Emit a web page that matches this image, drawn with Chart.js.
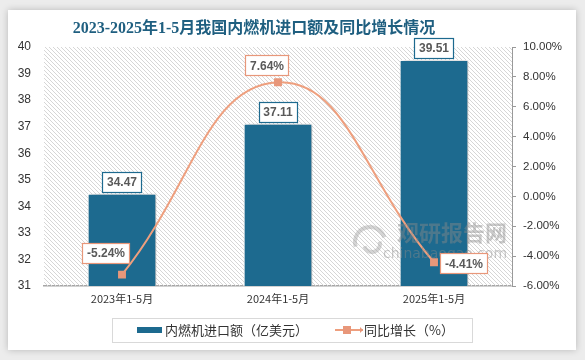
<!DOCTYPE html>
<html><head><meta charset="utf-8">
<script src="https://cdn.jsdelivr.net/npm/chart.js@4.4.1/dist/chart.umd.min.js"></script>
<style>
html,body{margin:0;padding:0;width:585px;height:360px;background:#ececec;overflow:hidden}
#card{position:absolute;left:8px;top:10px;width:568px;height:340px;background:#fff;box-shadow:0 0 7px rgba(0,0,0,0.22)}
canvas{display:block}
</style></head><body>
<div id="card"><canvas id="c" width="568" height="340"></canvas></div>
<script>
const categories = ['2023年1-5月', '2024年1-5月', '2025年1-5月'];
const importValues = [34.47, 37.11, 39.51];
const growthRates = [-5.24, 7.64, -4.41];
const leftTicks = [31, 32, 33, 34, 35, 36, 37, 38, 39, 40];
const rightTicks = [-6, -4, -2, 0, 2, 4, 6, 8, 10];
const titleText = '2023-2025年1-5月我国内燃机进口额及同比增长情况';
const barLegend = '内燃机进口额（亿美元）';
const lineLegend = '同比增长（%）';

const BAR_COLOR = '#1d6a8f';
const LINE_COLOR = '#ee9f7e';
const POINT_COLOR = '#e8977a';
const lineLabelOffsets = [[-16, -22], [-11, -17], [30, 1]];

const ctxEl = document.getElementById('c');

function makeHatch() {
  const p = document.createElement('canvas');
  p.width = 4; p.height = 4;
  const g = p.getContext('2d');
  g.fillStyle = '#d6d6d6';
  for (let i = 0; i < 4; i++) g.fillRect(i, i, 1, 1);
  return g.createPattern(p, 'repeat');
}

const decor = {
  id: 'decor',
  beforeDatasetsDraw(chart) {
    const {ctx, chartArea: a} = chart;
    ctx.save();
    ctx.fillStyle = makeHatch();
    ctx.fillRect(a.left, a.top, a.right - a.left, a.bottom - a.top);
    ctx.restore();
  },
  beforeDatasetDraw(chart, args) {
    if (chart.data.datasets[args.index].type === 'bar') {
      chart.ctx.save();
      chart.ctx.shadowColor = 'rgba(0,0,0,0.35)';
      chart.ctx.shadowBlur = 5;
      chart.ctx.shadowOffsetX = 2;
      chart.ctx.shadowOffsetY = 0;
    }
  },
  afterDatasetDraw(chart, args) {
    if (chart.data.datasets[args.index].type === 'bar') chart.ctx.restore();
  },
  afterDatasetsDraw(chart) {
    const ctx = chart.ctx;
    // watermark
    ctx.save();
    ctx.fillStyle = 'rgba(138,138,138,0.45)';
    ctx.textAlign = 'center';
    ctx.textBaseline = 'middle';
    ctx.font = 'bold 22px "Noto Sans CJK SC"';
    ctx.fillText('观研报告网', 444, 223);
    ctx.font = '14px "DejaVu Sans"';
    ctx.fillText('chinabaogao.com', 437, 244);
    ctx.strokeStyle = 'rgba(160,160,160,0.45)';
    ctx.lineWidth = 4;
    ctx.beginPath(); ctx.arc(362, 232, 15, Math.PI * 0.9, Math.PI * 1.9); ctx.stroke();
    ctx.beginPath(); ctx.arc(364, 234, 8, Math.PI * 1.9, Math.PI * 0.9); ctx.stroke();
    ctx.restore();

    // data labels
    const drawBox = (text, cx, cy, border, h) => {
      ctx.font = 'bold 12px "Liberation Sans"';
      const w = ctx.measureText(text).width + 9;
      ctx.fillStyle = '#fff';
      ctx.fillRect(Math.round(cx - w / 2) + 0.5, Math.round(cy - h / 2) + 0.5, Math.round(w), h);
      ctx.strokeStyle = border;
      ctx.lineWidth = 1.2;
      ctx.strokeRect(Math.round(cx - w / 2) + 0.5, Math.round(cy - h / 2) + 0.5, Math.round(w), h);
      ctx.fillStyle = '#595959';
      ctx.textAlign = 'center';
      ctx.textBaseline = 'middle';
      ctx.fillText(text, cx, cy + 1);
    };
    ctx.save();
    const barMeta = chart.getDatasetMeta(1);
    barMeta.data.forEach((el, i) => {
      drawBox(importValues[i].toFixed(2), el.x, el.y - 12, BAR_COLOR, 20);
    });
    const lineMeta = chart.getDatasetMeta(0);
    lineMeta.data.forEach((el, i) => {
      const o = lineLabelOffsets[i];
      drawBox(growthRates[i].toFixed(2) + '%', el.x + o[0], el.y + o[1], POINT_COLOR, 20);
    });
    ctx.restore();
  },
  afterDraw(chart) {
    const ctx = chart.ctx;
    ctx.save();
    // title
    ctx.fillStyle = '#1f5f80';
    ctx.font = 'bold 16px "Liberation Serif", "Noto Sans CJK SC"';
    ctx.textAlign = 'center';
    ctx.textBaseline = 'middle';
    ctx.fillText(titleText, 246, 19);
    // legend
    ctx.strokeStyle = '#d9d9d9';
    ctx.lineWidth = 1;
    ctx.strokeRect(104.5, 308.5, 360, 24);
    ctx.fillStyle = BAR_COLOR;
    ctx.fillRect(129, 317, 25, 6);
    ctx.fillStyle = '#333';
    ctx.font = '13px "Noto Sans CJK SC"';
    ctx.textAlign = 'left';
    ctx.fillText(barLegend, 157, 320);
    ctx.strokeStyle = LINE_COLOR;
    ctx.lineWidth = 2;
    ctx.beginPath(); ctx.moveTo(327, 320); ctx.lineTo(355, 320); ctx.stroke();
    ctx.fillStyle = POINT_COLOR;
    ctx.fillRect(335, 316, 8, 8);
    ctx.beginPath(); ctx.moveTo(352, 317); ctx.lineTo(355, 320); ctx.lineTo(352, 323); ctx.closePath(); ctx.fill();
    ctx.fillStyle = '#333';
    ctx.fillText(lineLegend, 356, 320);
    ctx.restore();
  }
};

new Chart(ctxEl, {
  data: {
    labels: categories,
    datasets: [
      {
        type: 'line', label: lineLegend, data: growthRates, yAxisID: 'y1', order: 0,
        borderColor: LINE_COLOR, borderWidth: 2, tension: 0.45,
        pointStyle: 'rect', pointRadius: 5.6, pointBackgroundColor: POINT_COLOR,
        pointBorderWidth: 0, pointHoverRadius: 5.6
      },
      {
        type: 'bar', label: barLegend, data: importValues, yAxisID: 'y', order: 1,
        backgroundColor: BAR_COLOR, borderColor: '#ffffff', borderWidth: 1,
        categoryPercentage: 1, barPercentage: 0.44
      }
    ]
  },
  options: {
    responsive: false, animation: false, events: [],
    layout: {padding: {top: 37, left: 0, right: 0, bottom: 0}},
    plugins: {legend: {display: false}, tooltip: {enabled: false}, title: {display: false}},
    scales: {
      x: {
        offset: true,
        grid: {display: false, drawTicks: false},
        border: {display: true, color: '#a6a6a6', width: 1.5},
        ticks: {color: '#333', font: {family: '"Noto Sans CJK SC"', size: 11}, padding: 6},
        afterFit(s) { s.height = 64; }
      },
      y: {
        position: 'left', min: 31, max: 40,
        afterBuildTicks(s) { s.ticks = leftTicks.map(v => ({value: v})); },
        grid: {display: false, drawTicks: false},
        border: {display: false},
        ticks: {color: '#333', font: {family: '"Liberation Sans"', size: 12}, padding: 13},
        afterFit(s) { s.width = 36; }
      },
      y1: {
        position: 'right', min: -6, max: 10,
        afterBuildTicks(s) { s.ticks = rightTicks.map(v => ({value: v})); },
        grid: {drawOnChartArea: false, tickLength: 4, color: '#999'},
        border: {display: true, color: '#999'},
        ticks: {color: '#333', font: {family: '"Liberation Sans"', size: 11.5}, padding: 7,
          callback: v => v.toFixed(2) + '%'},
        afterFit(s) { s.width = 64; }
      }
    }
  },
  plugins: [decor]
});
</script>
</body></html>
